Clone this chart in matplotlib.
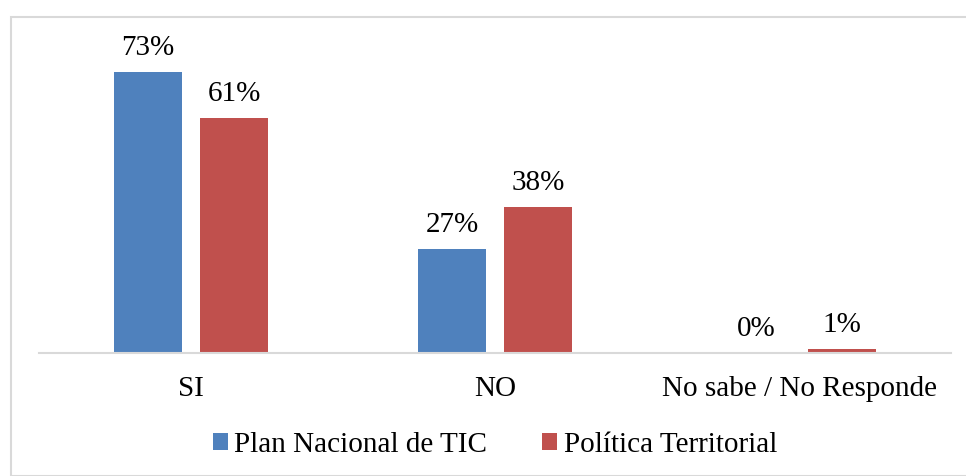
import matplotlib
matplotlib.use("Agg")
import matplotlib.pyplot as plt
import numpy as np
from matplotlib.patches import Rectangle

categories = ["SI", "NO", "No sabe / No Responde"]
series_names = ["Plan Nacional de TIC", "Política Territorial"]
plan_values = [73, 27, 0]
politica_values = [61, 38, 1]
value_labels_plan = ["73%", "27%", "0%"]
value_labels_pol = ["61%", "38%", "1%"]

colors = ["#4F81BD", "#C0504D"]

plt.rcParams['font.family'] = ['Liberation Serif', 'DejaVu Serif']

W, H = 966, 476
fig = plt.figure(figsize=(W / 100, H / 100), dpi=100)

ax_left, ax_right = 39, 951
ax_top, ax_bottom = 45, 353
ax = fig.add_axes([ax_left / W, (H - ax_bottom) / H, (ax_right - ax_left) / W, (ax_bottom - ax_top) / H])

x = np.arange(len(categories))
bw = 68 / 304
gap = 18 / 304
off = (bw + gap) / 2

b1 = ax.bar(x - off, plan_values, width=bw, color=colors[0], label=series_names[0])
b2 = ax.bar(x + off, politica_values, width=bw, color=colors[1], label=series_names[1])

fs = 21
for bars, labels in ((b1, value_labels_plan), (b2, value_labels_pol)):
    for rect, lab in zip(bars, labels):
        ax.annotate(lab, (rect.get_x() + rect.get_width() / 2, rect.get_height()),
                    xytext=(0, 12), textcoords="offset points",
                    ha="center", va="baseline", fontsize=fs, color="black")

ax.set_xlim(-0.5, len(categories) - 0.5)
ax.set_ylim(0, 80)
ax.set_xticks(x)
ax.set_xticklabels(categories, fontsize=fs)
ax.tick_params(axis="x", length=0, pad=16.5)
ax.set_yticks([])
for s in ("top", "right", "left"):
    ax.spines[s].set_visible(False)
ax.spines["bottom"].set_color("#D9D9D9")
ax.spines["bottom"].set_linewidth(1.5)

fig.legend(handles=[b1, b2], labels=series_names, loc="center",
           bbox_to_anchor=(495 / W, (H - 445) / H), ncol=2, frameon=False,
           fontsize=fs, handlelength=0.51, handleheight=0.51,
           handletextpad=0.22, columnspacing=1.88, borderpad=0, borderaxespad=0)

border = Rectangle((10.5 / W, 0), (W + 10) / W, (H - 16.5) / H,
                   transform=fig.transFigure, fill=False,
                   edgecolor="#D9D9D9", linewidth=1.5, clip_on=False)
fig.patches.append(border)

fig.savefig("out.png", dpi=100)
